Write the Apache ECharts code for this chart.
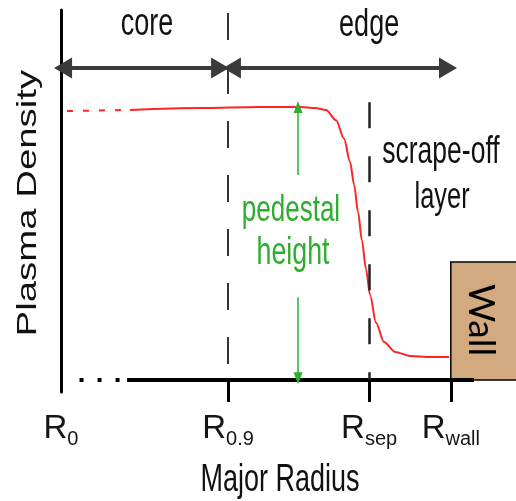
<!DOCTYPE html>
<html>
<head>
<meta charset="utf-8">
<script src="https://cdn.jsdelivr.net/npm/echarts@6/dist/echarts.min.js"></script>
<style>
  html, body { margin: 0; padding: 0; background: #ffffff; }
  #chart { width: 516px; height: 501px; }
</style>
</head>
<body>
<div id="chart"></div>
<script>
// Marked radii on the horizontal axis (normalised units, R0 at 0)
const tickRadius = [0, 0.9, 1.66, 2.10];
const tickSubscripts = ['0', '0.9', 'sep', 'wall'];

// Density profile: pedestal top, steep edge gradient, scrape-off-layer tail
const profileRadius = [0.372, 0.75, 1.07, 1.29, 1.37, 1.428, 1.482, 1.525, 1.557, 1.579, 1.600, 1.621, 1.643, 1.665, 1.697, 1.740, 1.800, 1.880, 1.988, 2.091];
const profileDensity = [0.730, 0.735, 0.738, 0.738, 0.735, 0.730, 0.702, 0.652, 0.590, 0.528, 0.455, 0.378, 0.300, 0.230, 0.155, 0.103, 0.076, 0.065, 0.062, 0.062];

// Dashed extrapolation of the profile towards the axis
const coreRadius = [0.032, 0.372];
const coreDensity = [0.727, 0.730];

// Region arrows ("core" / "edge") and the pedestal-height marker
const regionArrowLevel = 0.843;
const coreSpan = [0.011, 0.857];
const edgeSpan = [0.921, 2.085];
const pedestalRadius = 1.277;
const pedestalTop = 0.738;

const xMax = 2.225;
const yMin = -0.0324;
const yMax = 1;

const FONT = '"Liberation Sans", Arial, sans-serif';
const RED = '#ff2424';
const GREEN = '#2eae2e';

const zip = (xs, ys) => xs.map((x, i) => [x, ys[i]]);

const chart = echarts.init(document.getElementById('chart'), null, { renderer: 'canvas' });

const option = {
  animation: false,
  backgroundColor: '#ffffff',
  grid: { left: 61, right: 42, top: 10, bottom: 109, containLabel: false },
  xAxis: {
    type: 'value',
    min: 0,
    max: xMax,
    axisLine: { show: true, onZero: true, lineStyle: { color: 'rgba(0,0,0,0)' } },
    axisTick: {
      show: true,
      customValues: tickRadius.slice(1),
      length: 22,
      lineStyle: { color: '#000', width: 3 }
    },
    axisLabel: {
      show: true,
      customValues: tickRadius,
      margin: 20,
      formatter: function (v) {
        const i = tickRadius.findIndex(t => Math.abs(t - v) < 1e-6);
        return '{r|R}{s|' + tickSubscripts[i] + '}';
      },
      rich: {
        r: { fontFamily: FONT, fontSize: 33, color: '#151515', verticalAlign: 'top', lineHeight: 34 },
        s: { fontFamily: FONT, fontSize: 20, color: '#151515', verticalAlign: 'top', lineHeight: 34, padding: [17, 0, 0, 0] }
      }
    },
    splitLine: { show: false }
  },
  yAxis: {
    type: 'value',
    min: yMin,
    max: yMax,
    axisLine: { show: true, onZero: false, lineStyle: { color: '#000', width: 3 } },
    axisTick: { show: false },
    axisLabel: { show: false },
    splitLine: { show: false }
  },
  series: [
    {
      name: 'baseline',
      type: 'line',
      data: [[0.356, 0], [xMax, 0]],
      symbol: 'none',
      clip: false,
      silent: true,
      z: 4,
      lineStyle: { color: '#000', width: 4 }
    },
    {
      name: 'baseline-dots',
      type: 'line',
      data: [[0.10, 0], [0.356, 0]],
      symbol: 'none',
      clip: false,
      silent: true,
      z: 4,
      lineStyle: { color: '#000', width: 4, type: [4, 14] }
    },
    {
      name: 'core extrapolation',
      type: 'line',
      data: zip(coreRadius, coreDensity),
      symbol: 'none',
      silent: true,
      lineStyle: { color: RED, width: 2, type: [6, 10] }
    },
    {
      name: 'Plasma Density',
      type: 'line',
      data: zip(profileRadius, profileDensity),
      symbol: 'none',
      smooth: 0.3,
      smoothMonotone: 'x',
      silent: true,
      z: 3,
      lineStyle: { color: RED, width: 2 }
    },
    {
      name: 'annotations',
      type: 'line',
      data: [],
      silent: true,
      markLine: {
        silent: true,
        animation: false,
        label: { show: false },
        symbol: 'none',
        data: [
          // Boundary of the core region (R0.9)
          [
            { coord: [tickRadius[1], 0.992], symbol: 'none', lineStyle: { color: '#333', width: 2, type: [27, 27] } },
            { coord: [tickRadius[1], 0], symbol: 'none' }
          ],
          // Separatrix
          [
            { coord: [tickRadius[2], 0.751], symbol: 'none', lineStyle: { color: '#222', width: 2.5, type: [26, 28] } },
            { coord: [tickRadius[2], 0], symbol: 'none' }
          ],
          // core region arrow
          [
            { coord: [coreSpan[0], regionArrowLevel], symbol: 'triangle', symbolSize: [21, 18], lineStyle: { color: '#3a3a3a', width: 4, type: 'solid' } },
            { coord: [coreSpan[1], regionArrowLevel], symbol: 'triangle', symbolSize: [21, 18] }
          ],
          // edge region arrow
          [
            { coord: [edgeSpan[0], regionArrowLevel], symbol: 'triangle', symbolSize: [21, 18], lineStyle: { color: '#3a3a3a', width: 4, type: 'solid' } },
            { coord: [edgeSpan[1], regionArrowLevel], symbol: 'triangle', symbolSize: [21, 18] }
          ],
          // pedestal height: upper arrow
          [
            { coord: [pedestalRadius, 0.554], symbol: 'none', lineStyle: { color: GREEN, width: 1.5, type: 'solid' } },
            { coord: [pedestalRadius, pedestalTop], symbol: 'triangle', symbolSize: [9, 12] }
          ],
          // pedestal height: lower arrow
          [
            { coord: [pedestalRadius, 0.224], symbol: 'none', lineStyle: { color: GREEN, width: 1.5, type: 'solid' } },
            { coord: [pedestalRadius, 0.005], symbol: 'triangle', symbolSize: [9, 12] }
          ]
        ]
      }
    }
  ]
};

chart.setOption(option);

// Text annotations positioned from data coordinates
const px = (x, y) => chart.convertToPixel({ gridIndex: 0 }, [x, y]);

// Horizontal label, tall lettering: anchored on its baseline
function tallText(text, x, baseline, size, color, sy) {
  const p = px(x, baseline);
  const s = sy || 1.43;
  return {
    type: 'text',
    x: p[0],
    y: p[1] - 0.33 * size * s,
    scaleY: s,
    silent: true,
    z: 10,
    style: {
      text: text,
      x: 0,
      y: 0,
      fill: color || '#111',
      font: size + 'px ' + FONT,
      align: 'center',
      verticalAlign: 'middle'
    }
  };
}

function buildGraphics() {
  const wallTopLeft = px(tickRadius[3], 0.319);
  const wallBottom = px(tickRadius[3], 0)[1];
  const wallCenter = px(2.263, 0.162);
  const yTitle = px(0, 0.478);
  const elements = [
    {
      type: 'rect',
      silent: true,
      z: 1,
      shape: { x: wallTopLeft[0], y: wallTopLeft[1], width: 520 - wallTopLeft[0], height: wallBottom - wallTopLeft[1] },
      style: { fill: '#d3a97f', stroke: '#000', lineWidth: 1.5 }
    },
    {
      type: 'text',
      silent: true,
      z: 10,
      x: wallCenter[0],
      y: wallCenter[1],
      rotation: -Math.PI / 2,
      style: { text: 'Wall', x: 0, y: 0, fill: '#000', font: '37px Lato, "Open Sans", sans-serif', align: 'center', verticalAlign: 'middle' }
    },
    tallText('core', 0.463, 0.927, 27),
    tallText('edge', 1.66, 0.924, 27),
    tallText('pedestal', 1.239, 0.424, 26, GREEN),
    tallText('height', 1.25, 0.308, 26.8, GREEN),
    tallText('scrape-off', 2.047, 0.581, 26.5),
    tallText('layer', 2.053, 0.459, 25.4),
    tallText('Major Radius', 1.18, -0.305, 27),
    {
      type: 'text',
      silent: true,
      z: 10,
      x: yTitle[0] - 33,
      y: yTitle[1],
      rotation: Math.PI / 2,
      scaleX: 1.37,
      style: { text: 'Plasma Density', x: 0, y: 0, fill: '#111', font: '28px ' + FONT, align: 'center', verticalAlign: 'middle' }
    }
  ];
  chart.setOption({ graphic: { elements: elements } });
}

buildGraphics();
</script>
</body>
</html>
